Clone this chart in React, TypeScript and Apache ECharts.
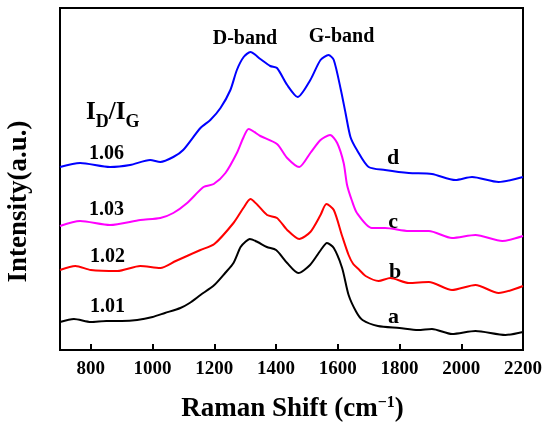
import React, { useEffect, useRef } from "react";
import * as echarts from "echarts";

const FONT = "Liberation Serif";

const xTicks = [800, 1000, 1200, 1400, 1600, 1800, 2000, 2200];

const aShift = [700, 745, 800, 850, 900, 950, 1000, 1040, 1090, 1120, 1155, 1200, 1235, 1262, 1285, 1300, 1315, 1340, 1370, 1400, 1436, 1472, 1510, 1545, 1565, 1587, 1614, 1635, 1660, 1680, 1730, 1800, 1860, 1905, 1970, 2046, 2143, 2200];
const aIntensity = [28, 31, 28, 29, 29, 30, 33, 37, 42, 47, 55, 65, 77, 87, 103, 108, 111, 108, 103, 100, 87, 77, 85, 100, 107, 102, 82, 55, 38, 30, 24, 22, 20, 21, 16, 19, 15, 18];

const bShift = [700, 750, 800, 886, 960, 1025, 1075, 1155, 1200, 1262, 1294, 1317, 1340, 1371, 1403, 1436, 1475, 1511, 1544, 1563, 1587, 1614, 1635, 1650, 1670, 1690, 1732, 1770, 1830, 1895, 1970, 2046, 2121, 2200];
const bIntensity = [80, 84, 80, 79, 84, 82, 89, 100, 106, 127, 142, 151, 145, 135, 132, 120, 111, 118, 135, 146, 140, 114, 95, 86, 80, 74, 69, 72, 67, 68, 60, 65, 57, 64];

const cShift = [700, 765, 862, 960, 1025, 1067, 1112, 1165, 1198, 1236, 1273, 1295, 1311, 1349, 1403, 1436, 1475, 1511, 1544, 1575, 1598, 1619, 1630, 1645, 1662, 1710, 1753, 1830, 1895, 1970, 2046, 2133, 2200];
const cIntensity = [124, 129, 125, 130, 132, 137, 147, 163, 166, 177, 197, 213, 221, 214, 206, 192, 183, 197, 210, 215, 207, 187, 165, 150, 137, 122, 122, 119, 119, 112, 115, 109, 114];

const dShift = [700, 765, 862, 927, 992, 1025, 1067, 1099, 1155, 1187, 1220, 1252, 1273, 1295, 1317, 1349, 1381, 1403, 1436, 1470, 1511, 1544, 1570, 1587, 1610, 1625, 1641, 1662, 1700, 1753, 1830, 1905, 1981, 2035, 2121, 2200];
const dIntensity = [183, 187, 183, 185, 190, 188, 193, 200, 222, 230, 242, 260, 280, 293, 298, 291, 284, 282, 265, 253, 270, 290, 295, 290, 260, 237, 213, 200, 183, 180, 177, 176, 170, 173, 168, 173];

const seriesNames = ["a", "b", "c", "d"];
const seriesColors = ["#000000", "#ff0000", "#ff00ff", "#0000ff"];
const ratioLabels = ["1.01", "1.02", "1.03", "1.06"];

const zip = (xs: number[], ys: number[]) => xs.map((x, i) => [x, ys[i]]);

export default function App() {
  const ref = useRef<HTMLDivElement>(null);
  useEffect(() => {
    if (!ref.current) return;
    const chart = echarts.init(ref.current, null, { renderer: "svg" });
    const datasets = [
      zip(aShift, aIntensity),
      zip(bShift, bIntensity),
      zip(cShift, cIntensity),
      zip(dShift, dIntensity),
    ];
    const txt = (text: string, x: number, y: number, size: number, align = "center", va = "middle") => ({
      type: "text",
      x,
      y,
      silent: true,
      style: {
        text,
        fill: "#000",
        fontSize: size,
        fontWeight: "bold",
        fontFamily: FONT,
        align,
        verticalAlign: va,
      },
    });
    const ratioPos = [
      [107.5, 305],
      [107.5, 254.7],
      [106.5, 208],
      [106.5, 151.5],
    ];
    const letterPos = [
      [393.5, 315],
      [395, 270],
      [393, 220.5],
      [393, 156],
    ];
    chart.setOption({
      animation: false,
      grid: {
        left: 60,
        right: 27,
        top: 8,
        bottom: 76,
        show: true,
        borderColor: "#000",
        borderWidth: 2,
        backgroundColor: "transparent",
      },
      xAxis: {
        type: "value",
        min: 700,
        max: 2200,
        splitLine: { show: false },
        axisLine: { show: true, lineStyle: { color: "#000", width: 2 } },
        axisTick: {
          show: true,
          inside: true,
          length: 6,
          customValues: xTicks,
          lineStyle: { color: "#000", width: 2 },
        },
        axisLabel: {
          customValues: xTicks,
          formatter: (v: number) => String(v),
          color: "#000",
          fontSize: 19,
          fontWeight: "bold",
          fontFamily: FONT,
          margin: 8,
        },
      },
      yAxis: {
        type: "value",
        min: 0,
        max: 342,
        splitLine: { show: false },
        axisLine: { show: true, lineStyle: { color: "#000", width: 2 } },
        axisTick: { show: false },
        axisLabel: { show: false },
      },
      series: datasets.map((d, i) => ({
        name: seriesNames[i],
        type: "line",
        data: d,
        showSymbol: false,
        smooth: 0.25,
        lineStyle: { color: seriesColors[i], width: 2 },
        itemStyle: { color: seriesColors[i] },
      })),
      graphic: [
        txt("D-band", 245, 37, 20),
        txt("G-band", 341.5, 35, 20),
        txt("I", 86, 110.5, 25, "left"),
        txt("D", 95.7, 120.5, 18, "left"),
        txt("/I", 108.7, 110.5, 25, "left"),
        txt("G", 125.4, 120.5, 18, "left"),
        ...ratioLabels.map((t, i) => txt(t, ratioPos[i][0], ratioPos[i][1], 20)),
        ...seriesNames.map((t, i) => txt(t, letterPos[i][0], letterPos[i][1], 22)),
        {
          type: "text",
          x: 17,
          y: 201.5,
          rotation: Math.PI / 2,
          silent: true,
          style: {
            text: "Intensity(a.u.)",
            fill: "#000",
            fontSize: 27,
            fontWeight: "bold",
            fontFamily: FONT,
            align: "center",
            verticalAlign: "middle",
          },
        },
        {
          type: "text",
          x: 292.5,
          y: 407,
          silent: true,
          style: {
            text: "{m|Raman Shift (cm}{s|−1}{m|)}",
            fill: "#000",
            align: "center",
            verticalAlign: "middle",
            rich: {
              m: { fontSize: 27, fontWeight: "bold", fontFamily: FONT, fill: "#000", verticalAlign: "bottom" },
              s: { fontSize: 16, fontWeight: "bold", fontFamily: FONT, fill: "#000", verticalAlign: "top" },
            },
          },
        },
      ],
    });
    return () => chart.dispose();
  }, []);
  return (
    <div
      ref={ref}
      style={{ position: "fixed", left: 0, top: 0, width: 550, height: 426 }}
    />
  );
}
